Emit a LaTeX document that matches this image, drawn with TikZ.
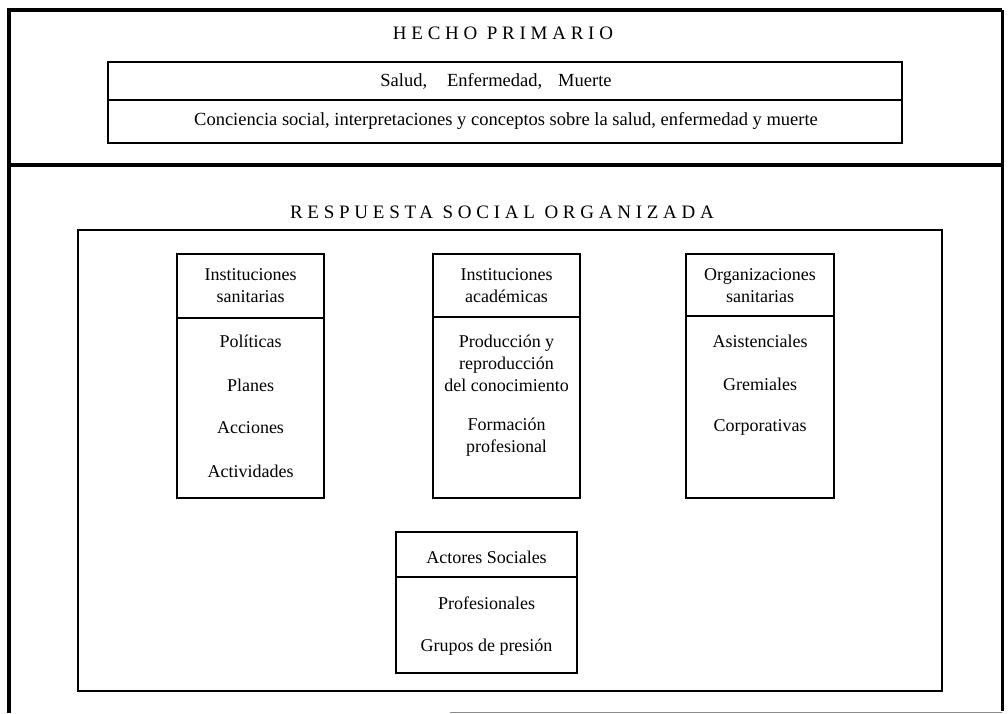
\documentclass[tikz,border=0pt]{standalone}
\usepackage{fontspec}
\setmainfont{Liberation Serif}
\newfontfamily\spacedfont[LetterSpace=25]{Liberation Serif}
\tikzset{
  frame/.style={line width=4pt},
  box/.style={line width=1.6pt},
  txt/.style={inner sep=0pt, font=\fontsize{18}{22}\selectfont, align=center},
  bigtxt/.style={inner sep=0pt, font=\fontsize{18.5}{22}\selectfont},
  title/.style={inner sep=0pt, font=\fontsize{19}{22}\spacedfont},
}
\begin{document}
\begin{tikzpicture}[x=1pt,y=-1pt]
\useasboundingbox (0,0) rectangle (1008,713);
% outer frame
\draw[frame] (9,713) -- (9,10) -- (1002,10);
\draw[line width=3pt] (1002,10) -- (1002,711);
\draw[line width=3.5pt] (9,165) -- (1002,165);
\draw[line width=1pt, black!45] (450,712) -- (1002,712);
% top section
\node[title] (hecho) at (503,33) {HECHO PRIMARIO};
\draw[box] (108,62) rectangle (902,143);
\draw[box] (108,100) -- (902,100);
\node[bigtxt] (salud) at (496,81) {Salud,\hspace{20pt}Enfermedad,\hspace{16pt}Muerte};
\node[bigtxt] (conciencia) at (506,121) {Conciencia social, interpretaciones y conceptos sobre la salud, enfermedad y muerte};
% bottom section
\node[title] (respuesta) at (502,212) {RESPUESTA SOCIAL ORGANIZADA};
\draw[box] (78,230) rectangle (942,691);
% column 1
\draw[box] (177,254) rectangle (324,498);
\draw[box] (177,318) -- (324,318);
\node[txt] (c1h) at (250.5,286) {Instituciones\\sanitarias};
\node[txt] (c1a) at (250.5,341) {Políticas};
\node[txt] (c1b) at (250.5,385) {Planes};
\node[txt] (c1c) at (250.5,428) {Acciones};
\node[txt] (c1d) at (250.5,471) {Actividades};
% column 2
\draw[box] (433,254) rectangle (580,498);
\draw[box] (433,317) -- (580,317);
\node[txt] (c2h) at (506.5,286) {Instituciones\\académicas};
\node[txt] (c2a) at (506.5,363) {Producción y\\reproducción\\del conocimiento};
\node[txt] (c2b) at (506.5,437) {Formación\\profesional};
% column 3
\draw[box] (686,254) rectangle (834,498);
\draw[box] (686,316) -- (834,316);
\node[txt] (c3h) at (760,286) {Organizaciones\\sanitarias};
\node[txt] (c3a) at (760,341) {Asistenciales};
\node[txt] (c3b) at (760,384) {Gremiales};
\node[txt] (c3c) at (760,427) {Corporativas};
% bottom box
\draw[box] (396,532) rectangle (577,673);
\draw[box] (396,577) -- (577,577);
\node[txt] (c4h) at (486.5,557) {Actores Sociales};
\node[txt] (c4a) at (486.5,603) {Profesionales};
\node[txt] (c4b) at (486.5,647) {Grupos de presión};
\end{tikzpicture}
\end{document}
